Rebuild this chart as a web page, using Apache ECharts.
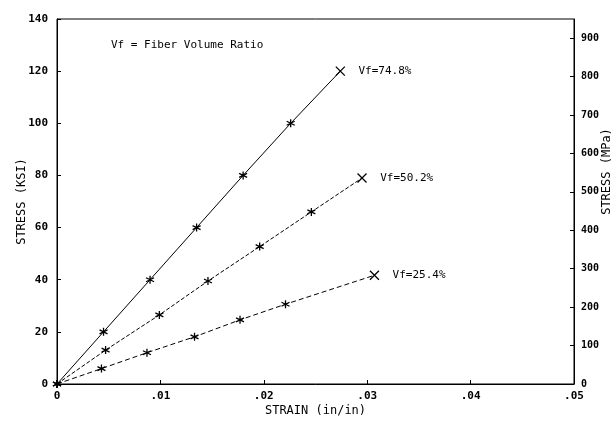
<!DOCTYPE html>
<html>
<head>
<meta charset="utf-8">
<script src="https://cdn.jsdelivr.net/npm/echarts@6/dist/echarts.min.js"></script>
<style>html,body{margin:0;padding:0;background:#fff}#c{width:615px;height:427px}</style>
</head>
<body>
<div id="c"></div>
<script>
// Data
var seriesNames = ['Vf=74.8%', 'Vf=50.2%', 'Vf=25.4%'];
var strain74 = [0, 0.0045, 0.0090, 0.0135, 0.0180, 0.0226, 0.0274];
var stress74 = [0, 20, 40, 60, 80, 100, 120];
var strain50 = [0, 0.0047, 0.0099, 0.0146, 0.0196, 0.0246, 0.0295];
var stress50 = [0, 13, 26.5, 39.5, 52.7, 66, 79];
var strain25 = [0, 0.0043, 0.0087, 0.0133, 0.0177, 0.0221, 0.0307];
var stress25 = [0, 5.9, 12, 18.1, 24.6, 30.6, 41.7];
var strainTicks = [0, 0.01, 0.02, 0.03, 0.04, 0.05];
var ksiTicks = [0, 20, 40, 60, 80, 100, 120, 140];
var mpaTicks = [0, 100, 200, 300, 400, 500, 600, 700, 800, 900];
var mpaMax = 950; // top of the right (MPa) scale

var FONT = 'DejaVu Sans Mono';
var STAR = 'path://M5,0L5,10M0.7,2.5L9.3,7.5M9.3,2.5L0.7,7.5';
var XMARK = 'path://M0,0L10,10M10,0L0,10';

function build(xs, ys) {
  return xs.map(function (x, i) {
    var item = { value: [x, ys[i]] };
    if (i === xs.length - 1) {
      item.symbol = XMARK;
      item.symbolSize = 9;
      item.label = { show: true };
    }
    return item;
  });
}

function mkSeries(name, xs, ys, dash) {
  return {
    type: 'line',
    name: name,
    data: build(xs, ys),
    symbol: STAR,
    symbolSize: 8,
    showAllSymbol: true,
    lineStyle: { color: '#000', width: 1, type: dash },
    itemStyle: { color: '#000', borderColor: '#000', borderWidth: 1.3 },
    label: {
      show: false,
      position: 'right',
      distance: 13,
      formatter: name,
      color: '#000',
      fontFamily: FONT,
      fontSize: 11
    },
    emphasis: { disabled: true },
    animation: false
  };
}

var chart = echarts.init(document.getElementById('c'), null, { renderer: 'canvas' });
chart.setOption({
  backgroundColor: '#fff',
  animation: false,
  title: {
    text: 'Vf = Fiber Volume Ratio',
    left: 106, top: 35,
    textStyle: { fontFamily: FONT, fontSize: 11, fontWeight: 'normal', color: '#000' }
  },
  grid: { left: 57, right: 41, top: 19, bottom: 43, show: true, borderColor: '#000', borderWidth: 1, outerBoundsMode: 'none', containLabel: false },
  xAxis: {
    type: 'value', min: 0, max: 0.05, interval: 0.01,
    name: 'STRAIN (in/in)', nameLocation: 'middle', nameGap: 21, nameMoveOverlap: false,
    nameTextStyle: { fontFamily: FONT, fontSize: 12, color: '#000', verticalAlign: 'top' },
    axisLine: { show: true, lineStyle: { color: '#000', width: 1 } },
    axisTick: { show: true, inside: true, length: 4, lineStyle: { color: '#000' } },
    splitLine: { show: false },
    axisLabel: {
      color: '#000', fontFamily: FONT, fontSize: 11, fontWeight: 'bold', margin: 7,
      customValues: strainTicks,
      formatter: function (v) { return v === 0 ? '0' : v.toFixed(2).replace(/^0/, ''); }
    }
  },
  yAxis: [{
    type: 'value', min: 0, max: 140, interval: 20, position: 'left',
    name: 'STRESS (KSI)', nameLocation: 'middle', nameGap: 29, nameRotate: 90, nameMoveOverlap: false,
    nameTextStyle: { fontFamily: FONT, fontSize: 12, color: '#000' },
    axisLine: { show: true, lineStyle: { color: '#000', width: 1 } },
    axisTick: { show: true, inside: true, length: 4, lineStyle: { color: '#000' } },
    splitLine: { show: false },
    axisLabel: { color: '#000', fontFamily: FONT, fontSize: 11, fontWeight: 'bold', margin: 9, customValues: ksiTicks }
  }, {
    type: 'value', min: 0, max: mpaMax, position: 'right',
    name: 'STRESS (MPa)', nameLocation: 'middle', nameGap: 27, nameRotate: 90, nameMoveOverlap: false,
    nameTextStyle: { fontFamily: FONT, fontSize: 12, color: '#000', padding: [0, 0, 0, 60] },
    axisLine: { show: true, lineStyle: { color: '#000', width: 1 } },
    axisTick: { show: true, inside: true, length: 4, lineStyle: { color: '#000' }, customValues: mpaTicks },
    splitLine: { show: false },
    axisLabel: { color: '#000', fontFamily: FONT, fontSize: 10, fontWeight: 'bold', margin: 7, customValues: mpaTicks }
  }],
  series: [
    mkSeries(seriesNames[0], strain74, stress74, 'solid'),
    mkSeries(seriesNames[1], strain50, stress50, [4, 2]),
    mkSeries(seriesNames[2], strain25, stress25, [5, 3])
  ]
});
</script>
</body>
</html>
